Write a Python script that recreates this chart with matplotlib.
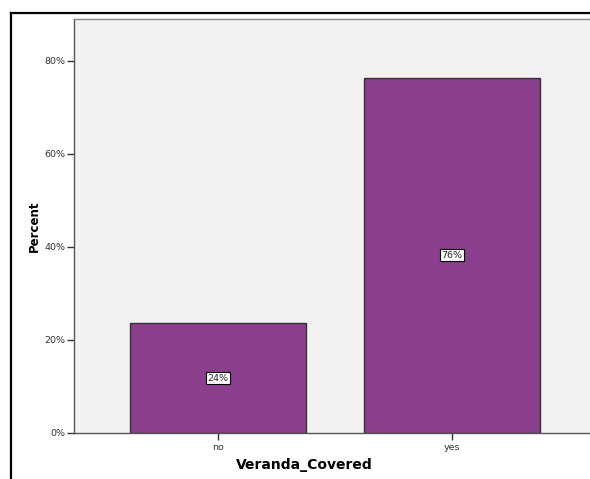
import matplotlib.pyplot as plt
from matplotlib.lines import Line2D

# --- data ---
categories = ['no', 'yes']
percents = [23.6, 76.4]
bar_labels = ['24%', '76%']
y_ticks = [0, 20, 40, 60, 80]

fig = plt.figure(figsize=(5.9, 4.79), dpi=100)
fig.patch.set_facecolor('white')

ax = fig.add_axes([74 / 590, 1 - 433 / 479, 522 / 590, 414 / 479])
ax.set_facecolor('#F2F2F2')

x = range(len(categories))
bars = ax.bar(x, percents, width=0.752, color='#8B3E8B',
              edgecolor='#333333', linewidth=1.0, zorder=2)

for b, lab in zip(bars, bar_labels):
    ax.text(b.get_x() + b.get_width() / 2, b.get_height() / 2, lab,
            ha='center', va='center', fontsize=6.8, color='#222222',
            bbox=dict(boxstyle='square,pad=0.15', facecolor='white',
                      edgecolor='black', linewidth=0.8), zorder=3)

ax.set_xlim(-0.615, 1.615)
ax.set_ylim(0, 89)
ax.set_xticks(list(x))
ax.set_xticklabels(categories, fontsize=6.8, color='#333333')
ax.set_yticks(y_ticks)
ax.set_yticklabels([f'{t}%' for t in y_ticks], fontsize=6.8, color='#333333')
ax.tick_params(axis='y', length=5, width=1, color='#333333', pad=1)
ax.tick_params(axis='x', length=5, width=1, color='#333333', pad=2)

for side in ['left', 'bottom']:
    ax.spines[side].set_color('#555555')
    ax.spines[side].set_linewidth(1.0)
ax.spines['top'].set_color('#888888')
ax.spines['top'].set_linewidth(1.0)
ax.spines['right'].set_visible(False)

ax.set_ylabel('Percent', fontsize=8.5, fontweight='bold')
ax.yaxis.set_label_coords((41 - 74) / 522, 0.5)
ax.set_xlabel('Veranda_Covered', fontsize=10, fontweight='bold')
ax.xaxis.set_label_coords((304 - 74) / 522, -(458 - 433) / 414)

# outer frame
fig.add_artist(Line2D([11 / 590, 11 / 590], [0, 1 - 13 / 479],
                      transform=fig.transFigure, color='black', linewidth=1.6))
fig.add_artist(Line2D([11 / 590, 1], [1 - 13 / 479, 1 - 13 / 479],
                      transform=fig.transFigure, color='black', linewidth=1.6))

fig.savefig('out.png', dpi=100)
